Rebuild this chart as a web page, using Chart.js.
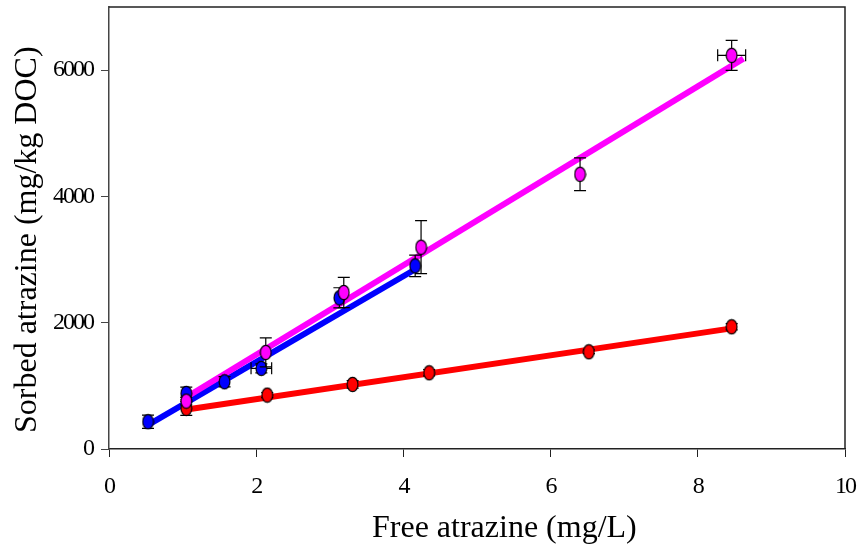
<!DOCTYPE html>
<html>
<head>
<meta charset="utf-8">
<script src="https://cdn.jsdelivr.net/npm/chart.js@4"></script>
<style>
  html, body { margin: 0; padding: 0; background: #fff; }
  #wrap { width: 858px; height: 547px; }
</style>
</head>
<body>
<div id="wrap"><canvas id="chart" width="858" height="547"></canvas></div>
<script>
// --- data ---
const blueX = [0.53, 1.05, 1.57, 2.07, 3.13, 4.16];
const blueY = [432, 880, 1065, 1277, 2394, 2901];
const blueYErr = [105, 100, 80, 70, 160, 170];
const blueXErr = [0, 0, 0, 0.14, 0, 0];

const pinkX = [1.05, 2.13, 3.19, 4.24, 6.40, 8.46];
const pinkY = [759, 1530, 2479, 3196, 4351, 6234];
const pinkYErr = [60, 230, 240, 420, 260, 237];
const pinkXErr = [0, 0, 0, 0, 0, 0.19];

const redX = [1.05, 2.15, 3.31, 4.35, 6.52, 8.46];
const redY = [644, 854, 1023, 1207, 1540, 1936];
const redYErr = [110, 40, 60, 50, 30, 50];
const redXErr = [0, 0, 0, 0, 0, 0];

// regression line end points
const blueFitX = [0.55, 4.18];
const blueFitY = [395, 2859];
const pinkFitX = [1.06, 8.62];
const pinkFitY = [828, 6182];
const redFitX = [1.08, 8.46];
const redFitY = [630, 1910];

const xTicks = [0, 2, 4, 6, 8, 10];
const yTicks = [0, 2000, 4000, 6000];

const xTitle = 'Free atrazine (mg/L)';
const yTitle = 'Sorbed atrazine (mg/kg DOC)';

const FONT = "'Liberation Serif', 'Times New Roman', serif";

function toPoints(xs, ys) {
    return xs.map((x, i) => ({ x: x, y: ys[i] }));
}

// ellipse marker drawn once per colour
function makeMarker(color) {
    const c = document.createElement('canvas');
    c.width = 13;
    c.height = 17;
    const g = c.getContext('2d');
    g.beginPath();
    g.ellipse(6.5, 8.5, 5.4, 7.2, 0, 0, Math.PI * 2);
    g.fillStyle = color;
    g.fill();
    g.lineWidth = 1.2;
    g.strokeStyle = '#000';
    g.stroke();
    return c;
}

function scatterSet(label, xs, ys, yErr, xErr, color, order) {
    return {
        type: 'scatter',
        label: label,
        data: toPoints(xs, ys),
        yErr: yErr,
        xErr: xErr,
        pointStyle: makeMarker(color),
        pointRadius: 6,
        order: order
    };
}

function fitSet(label, xs, ys, color, order) {
    return {
        type: 'line',
        label: label,
        data: toPoints(xs, ys),
        borderColor: color,
        borderWidth: 6,
        pointRadius: 0,
        fill: false,
        tension: 0,
        order: order
    };
}

// tight digits like the original
const tightText = {
    id: 'tightText',
    beforeDraw(chart) {
        chart.ctx.letterSpacing = '-2px';
    }
};

// error bars, drawn just before each scatter set's markers
const errorBars = {
    id: 'errorBars',
    beforeDatasetDraw(chart, args) {
        const ds = chart.data.datasets[args.index];
        if (!ds.yErr) return;
        const xs = chart.scales.x, ys = chart.scales.y;
        const ctx = chart.ctx;
        ctx.save();
        ctx.strokeStyle = '#000';
        ctx.lineWidth = 1.2;
        const cap = 6;
        ds.data.forEach((p, i) => {
            const px = xs.getPixelForValue(p.x);
            const py = ys.getPixelForValue(p.y);
            const ey = ds.yErr[i] || 0;
            if (ey > 0) {
                const t = ys.getPixelForValue(p.y + ey);
                const b = ys.getPixelForValue(p.y - ey);
                ctx.beginPath();
                ctx.moveTo(px, t); ctx.lineTo(px, b);
                ctx.moveTo(px - cap, t); ctx.lineTo(px + cap, t);
                ctx.moveTo(px - cap, b); ctx.lineTo(px + cap, b);
                ctx.stroke();
            }
            const ex = ds.xErr ? ds.xErr[i] : 0;
            if (ex > 0) {
                const l = xs.getPixelForValue(p.x - ex);
                const r = xs.getPixelForValue(p.x + ex);
                ctx.beginPath();
                ctx.moveTo(l, py); ctx.lineTo(r, py);
                ctx.moveTo(l, py - cap); ctx.lineTo(l, py + cap);
                ctx.moveTo(r, py - cap); ctx.lineTo(r, py + cap);
                ctx.stroke();
            }
        });
        ctx.restore();
    }
};

// top/right frame lines and the two axis titles (the originals sit off-centre)
const frame = {
    id: 'frame',
    afterDraw(chart) {
        const a = chart.chartArea;
        const ctx = chart.ctx;
        ctx.save();
        ctx.strokeStyle = '#222';
        ctx.lineWidth = 1.5;
        ctx.beginPath();
        ctx.moveTo(a.left, a.top);
        ctx.lineTo(a.right, a.top);
        ctx.lineTo(a.right, a.bottom);
        ctx.stroke();

        ctx.letterSpacing = '0px';
        ctx.fillStyle = '#000';
        ctx.font = '32px ' + FONT;
        ctx.textAlign = 'left';
        ctx.textBaseline = 'alphabetic';
        ctx.fillText(xTitle, 372, 537);

        ctx.translate(36, 433);
        ctx.rotate(-Math.PI / 2);
        ctx.fillText(yTitle, 0, 0);
        ctx.restore();
    }
};

new Chart(document.getElementById('chart'), {
    data: {
        datasets: [
            fitSet('blue fit', blueFitX, blueFitY, '#0000ff', 12),
            fitSet('pink fit', pinkFitX, pinkFitY, '#ff00ff', 11),
            fitSet('red fit', redFitX, redFitY, '#ff0000', 10),
            scatterSet('blue', blueX, blueY, blueYErr, blueXErr, '#0000ff', 3),
            scatterSet('red', redX, redY, redYErr, redXErr, '#ff0000', 2),
            scatterSet('pink', pinkX, pinkY, pinkYErr, pinkXErr, '#ff00ff', 1)
        ]
    },
    options: {
        responsive: false,
        animation: false,
        layout: { padding: { left: 0, right: 13, top: 7, bottom: 0 } },
        plugins: {
            legend: { display: false },
            tooltip: { enabled: false }
        },
        scales: {
            x: {
                type: 'linear',
                min: 0,
                max: 10,
                afterBuildTicks: s => { s.ticks = xTicks.map(v => ({ value: v })); },
                afterFit: s => { s.height = 98; s.paddingLeft = 0; s.paddingRight = 0; },
                ticks: {
                    color: '#000',
                    font: { family: FONT, size: 24 },
                    padding: 15,
                    maxRotation: 0,
                    callback: v => String(v)
                },
                grid: { drawOnChartArea: false, drawTicks: true, tickLength: 8, color: '#222' },
                border: { display: true, color: '#222', width: 1.5 }
            },
            y: {
                type: 'linear',
                min: 0,
                max: 7000,
                afterBuildTicks: s => { s.ticks = yTicks.map(v => ({ value: v })); },
                afterFit: s => { s.width = 109; s.paddingTop = 0; s.paddingBottom = 0; },
                ticks: {
                    color: '#000',
                    font: { family: FONT, size: 24 },
                    padding: 8,
                    callback: v => String(v)
                },
                grid: { drawOnChartArea: false, drawTicks: true, tickLength: 8, color: '#444' },
                border: { display: true, color: '#444', width: 1.5 }
            }
        }
    },
    plugins: [tightText, errorBars, frame]
});
</script>
</body>
</html>
